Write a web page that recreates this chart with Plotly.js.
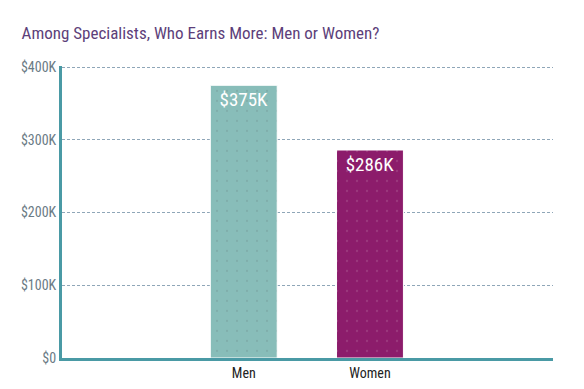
<!DOCTYPE html>
<html>
<head>
<meta charset="utf-8">
<script src="https://cdn.plot.ly/plotly-3.0.1.min.js"></script>
<style>html,body{margin:0;padding:0;background:#fff}#chart{width:584px;height:389px}</style>
</head>
<body>
<div id="chart"></div>
<script>
const categories = ["Men", "Women"];
const earnings = [375, 286]; // thousands of dollars
const barLabels = ["$375K", "$286K"];
const tickValues = [0, 100, 200, 300, 400];
const tickLabels = ["$0", "$100K", "$200K", "$300K", "$400K"];
const barColors = ["#88bdb9", "#8c1c6b"];

const FONT = "'Roboto Condensed','Liberation Sans Narrow','DejaVu Sans Condensed',Roboto,sans-serif";

const trace = {
  type: "bar",
  x: categories,
  y: earnings,
  width: 0.53,
  text: barLabels,
  textposition: "inside",
  insidetextanchor: "end",
  textangle: 0,
  textfont: {family: FONT, size: 19, color: "#ffffff"},
  marker: {
    color: barColors,
    line: {color: "#ffffff", width: 1},
    pattern: {shape: ".", fillmode: "overlay", fgcolor: "#ffffff", fgopacity: 0.12, size: 10, solidity: 0.04}
  },
  hoverinfo: "none"
};

const layout = {
  width: 584, height: 389,
  margin: {l: 62, r: 31, t: 66, b: 31},
  paper_bgcolor: "#ffffff", plot_bgcolor: "#ffffff",
  showlegend: false,
  title: {text: "Among Specialists, Who Earns More: Men or Women?", x: 0.037, xanchor: "left", y: 0.915, yanchor: "middle",
    font: {family: FONT, size: 17, color: "#5d3f7a"}},
  xaxis: {
    range: [-1.44, 2.45], fixedrange: true,
    showgrid: false, zeroline: false,
    showline: true, linecolor: "#4a9aa5", linewidth: 3,
    tickfont: {family: FONT, size: 14, color: "#222222"},
    ticks: ""
  },
  yaxis: {
    range: [0, 401.5], fixedrange: true,
    tickvals: tickValues, ticktext: tickLabels,
    showgrid: true, gridcolor: "#8fa6b8", griddash: "3px,2px", gridwidth: 1,
    zeroline: false,
    showline: true, linecolor: "#4a9aa5", linewidth: 3,
    tickfont: {family: FONT, size: 14, color: "#6b7b85"},
    ticks: "", ticklen: 0
  },
  bargap: 0.47
};

Plotly.newPlot("chart", [trace], layout, {displayModeBar: false, staticPlot: true});
</script>
</body>
</html>
